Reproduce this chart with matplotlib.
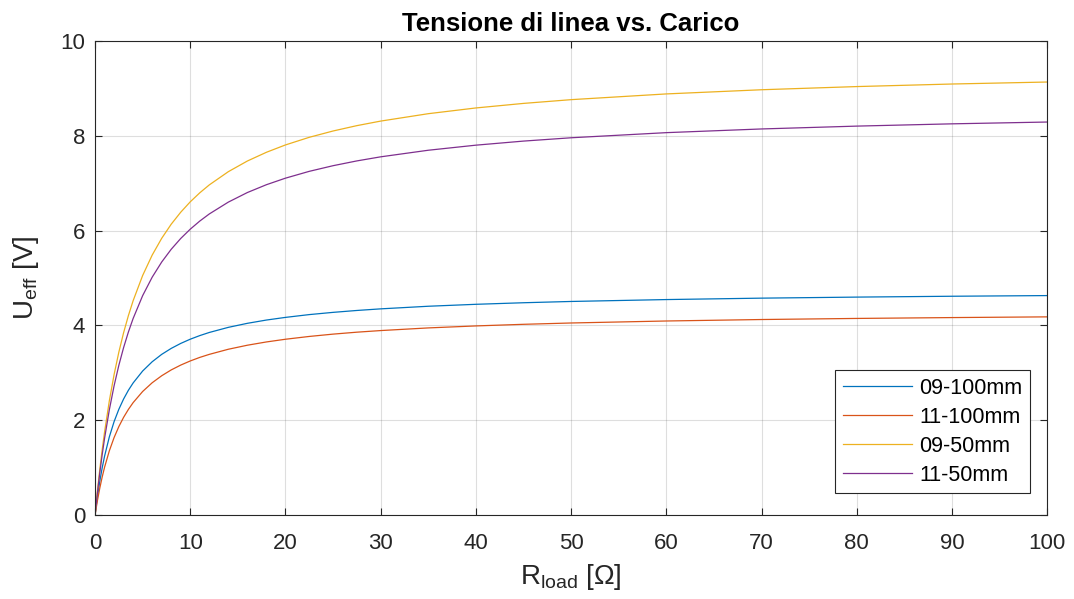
import numpy as np
import matplotlib
matplotlib.use("Agg")
from matplotlib import pyplot as plt

plt.rcParams['font.family'] = ['Liberation Sans', 'DejaVu Sans']
plt.rcParams['mathtext.fontset'] = 'custom'
plt.rcParams['mathtext.rm'] = 'Liberation Sans'
plt.rcParams['mathtext.it'] = 'Liberation Sans'

r_load = [0, 0.25, 0.5, 0.75, 1, 1.5, 2, 2.5, 3, 3.5, 4, 5, 6, 7, 8, 9, 10, 11, 12, 14, 16, 18,
          20, 22.5, 25, 27.5, 30, 35, 40, 45, 50, 60, 70, 80, 90, 100]

u_09_100 = [0, 0.386, 0.714, 0.996, 1.242, 1.648, 1.970, 2.231, 2.448, 2.631, 2.786, 3.038,
            3.233, 3.389, 3.515, 3.620, 3.709, 3.785, 3.851, 3.959, 4.044, 4.113, 4.169, 4.228,
            4.275, 4.315, 4.349, 4.404, 4.445, 4.478, 4.505, 4.545, 4.575, 4.597, 4.615, 4.629]
u_11_100 = [0, 0.305, 0.570, 0.803, 1.008, 1.354, 1.634, 1.866, 2.061, 2.227, 2.371, 2.606,
            2.790, 2.938, 3.061, 3.163, 3.250, 3.325, 3.389, 3.497, 3.582, 3.651, 3.708, 3.767,
            3.816, 3.857, 3.891, 3.947, 3.989, 4.023, 4.051, 4.093, 4.124, 4.147, 4.165, 4.180]
u_09_50 = [0, 0.509, 0.966, 1.379, 1.754, 2.409, 2.963, 3.437, 3.847, 4.205, 4.521, 5.053,
           5.483, 5.837, 6.135, 6.388, 6.607, 6.797, 6.964, 7.243, 7.468, 7.652, 7.807, 7.968,
           8.101, 8.214, 8.310, 8.466, 8.587, 8.683, 8.762, 8.883, 8.971, 9.038, 9.092, 9.134]
u_11_50 = [0, 0.471, 0.893, 1.273, 1.618, 2.220, 2.727, 3.159, 3.533, 3.859, 4.146, 4.628,
           5.017, 5.337, 5.606, 5.834, 6.030, 6.201, 6.351, 6.601, 6.803, 6.968, 7.106, 7.250,
           7.369, 7.470, 7.556, 7.695, 7.802, 7.888, 7.958, 8.066, 8.144, 8.204, 8.252, 8.290]

labels = ["09-100mm", "11-100mm", "09-50mm", "11-50mm"]
colors = ["#0072BD", "#D95319", "#EDB120", "#7E2F8E"]

fig = plt.figure(figsize=(10.74, 5.99), dpi=100)
ax = fig.add_axes([0.0885, 0.1402, 0.8865, 0.7914])

for y, lab, c in zip([u_09_100, u_11_100, u_09_50, u_11_50], labels, colors):
    ax.plot(r_load, y, color=c, lw=0.9, label=lab)

ax.set_xlim(0, 100)
ax.set_ylim(0, 10)
ax.set_xticks(np.arange(0, 101, 10))
ax.set_yticks(np.arange(0, 11, 2))
ax.grid(True, color="#262626", alpha=0.15, lw=0.8)
ax.tick_params(direction="in", length=5, width=0.8, colors="#262626", labelsize=16,
               top=True, right=True, labeltop=False, labelright=False, pad=7)
ax.tick_params(axis="x", pad=13)
for s in ax.spines.values():
    s.set_color("#262626")
    s.set_linewidth(0.8)

ax.set_title("Tensione di linea vs. Carico", fontsize=18.5, fontweight="bold", pad=7)
ax.set_xlabel(r"R$_{\mathrm{load}}$ [Ω]", fontsize=20, color="#262626", labelpad=6)
ax.set_ylabel(r"U$_{\mathrm{eff}}$ [V]", fontsize=20, color="#262626", labelpad=14)

leg = ax.legend(loc="lower right", bbox_to_anchor=(0.982, 0.046), fontsize=15.5,
                fancybox=False, edgecolor="#262626", framealpha=1, handlelength=3.2,
                handletextpad=0.35, borderpad=0.35, labelspacing=0.37, borderaxespad=0)
leg.get_frame().set_linewidth(0.8)

fig.savefig("out.png", dpi=100)
